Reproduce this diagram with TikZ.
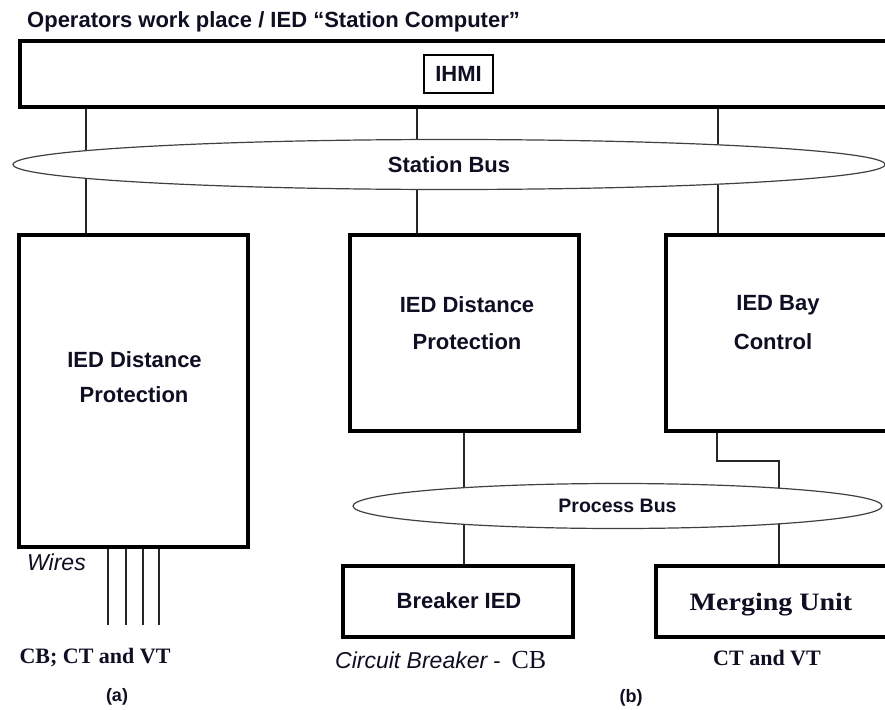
\documentclass[tikz,border=0pt]{standalone}
\usepackage{fontspec}
\usepackage{graphicx}
\setmainfont{Liberation Serif}
\newfontfamily\arial{Liberation Sans}
\usetikzlibrary{shapes.geometric}
\newcommand\myfs[1]{\fontsize{#1}{#1}\selectfont}
\definecolor{txt}{RGB}{15,15,35}
\pgfdeclarelayer{bg}
\pgfsetlayers{bg,main}
\tikzset{
  box/.style={draw=black, line width=3.3pt, rectangle, inner sep=0pt, outer sep=0pt, fill=white},
  smallbox/.style={draw=black, line width=1.6pt, rectangle, inner sep=0pt, outer sep=0pt, fill=white, text=txt, font=\arial\bfseries\myfs{22}},
  bus/.style={draw=black!75, line width=1.2pt, ellipse, inner sep=0pt, outer sep=0pt, fill=white, text=txt},
  conn/.style={draw=black!85, line width=1.3pt},
  lbl/.style={anchor=base, inner sep=0pt, text=txt},
  sansb/.style={font=\arial\bfseries\myfs{22}},
}
\begin{document}
\begin{tikzpicture}[x=1pt,y=-1pt]
\useasboundingbox (0,0) rectangle (885,709);
\clip (0,0) rectangle (885,709);

% title
\node[lbl, anchor=base west, sansb] (title) at (27,28) {Operators work place / IED “Station Computer”};

% top box
\node[box, minimum width=870pt, minimum height=66pt] (top) at (455,74) {};
\node[smallbox, minimum width=69pt, minimum height=38pt] (ihmi) at (458.5,74) {IHMI};

% station bus
\node[bus, minimum width=872pt, minimum height=50pt, font=\arial\bfseries\myfs{22}] (sbus) at (449,164.5) {Station Bus};

% IED boxes
\node[box, minimum width=229pt, minimum height=312pt] (lbox) at (133.5,391) {};
\node[box, minimum width=229pt, minimum height=196pt] (mbox) at (464.5,333) {};
\node[box, minimum width=224pt, minimum height=196pt] (rbox) at (778,333) {};

\node[lbl, sansb] (l1) at (134.5,367) {IED Distance};
\node[lbl, sansb] (l2) at (134,402) {Protection};
\node[lbl, sansb] (m1) at (467,312) {IED Distance};
\node[lbl, sansb] (m2) at (467,349) {Protection};
\node[lbl, sansb] (r1) at (778,310) {IED Bay};
\node[lbl, sansb] (r2) at (773,349) {Control};

% process bus
\node[bus, minimum width=529pt, minimum height=45pt, font=\arial\bfseries\myfs{19.5}] (pbus) at (617.5,506) {Process Bus};

% lower boxes
\node[box, minimum width=230pt, minimum height=71pt] (bbox) at (458,601.5) {};
\node[lbl, sansb] (btxt) at (459,608) {Breaker IED};
\node[box, minimum width=234pt, minimum height=71pt] (mubox) at (773,601.5) {};
\node[lbl, font=\bfseries\myfs{25}] (mutxt) at (771,610) {\scalebox{1.12}[1]{Merging Unit}};

% labels
\node[lbl, anchor=base west, font=\arial\itshape\myfs{23}] (wires) at (27,570) {Wires};
\node[lbl, font=\bfseries\myfs{22}] (cbct) at (95,663) {CB; CT and VT};
\node[lbl, font=\arial\bfseries\myfs{18}] (la) at (117,701) {(a)};
\node[lbl, anchor=base west] (cbl) at (335,668) {{\arial\itshape\myfs{23}Circuit Breaker}\hspace{6pt}{\arial\myfs{22}-}\hspace{11pt}{\myfs{26}CB}};
\node[lbl, font=\bfseries\myfs{22}] (ctvt) at (767,665) {CT and VT};
\node[lbl, font=\arial\bfseries\myfs{18}] (lb) at (631,702) {(b)};

% coordinates for connector x positions
\coordinate (c1) at (86,0);
\coordinate (c2) at (417,0);
\coordinate (c3) at (718,0);
\coordinate (c4) at (464,0);
\coordinate (c5) at (717,0);
\coordinate (c6) at (779,461);
\coordinate (w1) at (108,625);
\coordinate (w2) at (126,625);
\coordinate (w3) at (143,625);
\coordinate (w4) at (159,625);

\begin{pgfonlayer}{bg}
\fill[white] (0,0) rectangle (885,709);
\draw[conn] (top.south -| c1) -- (lbox.north -| c1);
\draw[conn] (top.south -| c2) -- (mbox.north -| c2);
\draw[conn] (top.south -| c3) -- (rbox.north -| c3);
\draw[conn] (mbox.south -| c4) -- (bbox.north -| c4);
\draw[conn] (rbox.south -| c5) |- (c6) -- (mubox.north -| c6);
\draw[conn] (lbox.south -| w1) -- (w1);
\draw[conn] (lbox.south -| w2) -- (w2);
\draw[conn] (lbox.south -| w3) -- (w3);
\draw[conn] (lbox.south -| w4) -- (w4);
\end{pgfonlayer}
\end{tikzpicture}
\end{document}
